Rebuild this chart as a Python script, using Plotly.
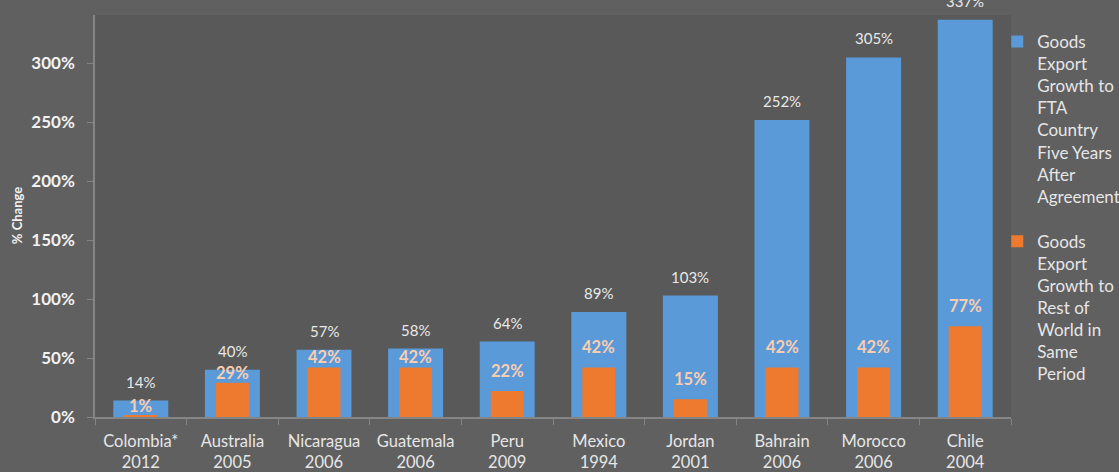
import plotly.graph_objects as go

countries = ["Colombia*<br>2012", "Australia<br>2005", "Nicaragua<br>2006", "Guatemala<br>2006",
             "Peru<br>2009", "Mexico<br>1994", "Jordan<br>2001", "Bahrain<br>2006",
             "Morocco<br>2006", "Chile<br>2004"]
fta_growth = [14, 40, 57, 58, 64, 89, 103, 252, 305, 337]
row_growth = [1, 29, 42, 42, 22, 42, 15, 42, 42, 77]
y_ticks = [0, 50, 100, 150, 200, 250, 300]
y_tick_labels = ["0%", "50%", "100%", "150%", "200%", "250%", "300%"]

name_fta = "Goods<br>Export<br>Growth to<br>FTA<br>Country<br>Five Years<br>After<br>Agreement"
name_row = "Goods<br>Export<br>Growth to<br>Rest of<br>World in<br>Same<br>Period"

FONT = "Lato, 'Open Sans', sans-serif"
Y_MAX = 341
PLOT_H = 402

fig = go.Figure()
fig.add_trace(go.Bar(x=countries, y=fta_growth, name=name_fta, width=0.6,
                     marker=dict(color="#5a9ad8", line=dict(width=0)),
                     legendgroup="a", hoverinfo="x+y"))
fig.add_trace(go.Bar(x=countries, y=row_growth, name=name_row, width=0.36,
                     marker=dict(color="#ee7a2f", line=dict(width=0)),
                     legendgroup="b", hoverinfo="x+y"))

annotations = []
px_per_unit = PLOT_H / Y_MAX
for c, b, o in zip(countries, fta_growth, row_growth):
    annotations.append(dict(x=c, y=b, text=f"{b}%", showarrow=False, yanchor="middle",
                            yshift=19, font=dict(family=FONT, size=15, color="#e8e8e8")))
    gap_px = (b - o) * px_per_unit
    shift = 20 if gap_px > 30 else 10
    annotations.append(dict(x=c, y=o, text=f"<b>{o}%</b>", showarrow=False, yanchor="middle",
                            yshift=shift, font=dict(family=FONT, size=16.5, color="#f9cdb0")))

annotations.append(dict(xref="paper", yref="paper", x=-0.085, y=0.5, text="<b>% Change</b>",
                        textangle=-90, showarrow=False, xanchor="center", yanchor="middle",
                        font=dict(family=FONT, size=13, color="#f2f2f2")))

fig.update_layout(
    width=1119, height=472,
    barmode="overlay",
    paper_bgcolor="#606060",
    plot_bgcolor="#595959",
    margin=dict(l=95, r=108, t=15, b=55, autoexpand=False),
    font=dict(family=FONT, color="#e6e6e6"),
    showlegend=True,
    legend=dict(x=0.985, xanchor="left", y=0.978, yanchor="top", valign="top",
                bgcolor="rgba(0,0,0,0)", font=dict(family=FONT, size=17, color="#e6e6e6"),
                tracegroupgap=20, itemwidth=30),
    annotations=annotations,
    bargap=0.4,
)
fig.update_xaxes(
    showgrid=False, showline=True, linecolor="#858585", linewidth=1.5,
    ticks="outside", tickson="boundaries", ticklen=6, tickcolor="#858585",
    tickfont=dict(family=FONT, size=16.5, color="#e6e6e6"),
    ticklabelstandoff=8,
    zeroline=False,
)
fig.update_yaxes(
    range=[0, Y_MAX], tickvals=y_ticks, ticktext=y_tick_labels,
    showgrid=False, showline=True, linecolor="#858585", linewidth=1.5,
    ticks="outside", ticklen=6, tickcolor="#858585",
    tickfont=dict(family=FONT, size=17, color="#f2f2f2", weight="bold"),
    ticklabelstandoff=9,
    zeroline=False,
)
fig.update_traces(cliponaxis=False)

fig.write_html("out.html", config={"displayModeBar": False},
               post_script="document.body.style.margin='0px';")
